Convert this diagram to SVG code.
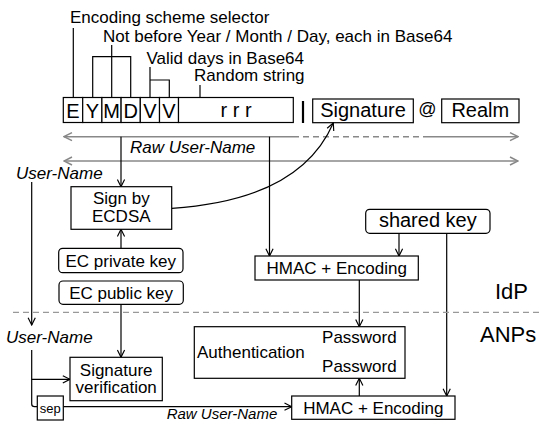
<svg xmlns="http://www.w3.org/2000/svg" width="541" height="425" viewBox="0 0 541 425">
<defs>
<marker id="ah" viewBox="0 0 10 10" refX="9" refY="5" markerWidth="9" markerHeight="9" markerUnits="userSpaceOnUse" orient="auto"><path d="M1,1 L9,5 L1,9" fill="none" stroke="#000" stroke-width="1.3"/></marker>
<marker id="ahg" viewBox="0 0 10 10" refX="9" refY="5" markerWidth="10" markerHeight="10" markerUnits="userSpaceOnUse" orient="auto-start-reverse"><path d="M1,1 L9,5 L1,9" fill="none" stroke="#888" stroke-width="1.5"/></marker>
</defs>
<style>
text{font-family:"Liberation Sans",Arial,sans-serif;font-size:17px;fill:#000}
.big{font-size:20px}
.it{font-style:italic}
.mid{text-anchor:middle}
.box{fill:#fff;stroke:#000;stroke-width:1.2}
.ln{fill:none;stroke:#000;stroke-width:1.2}
.gr{fill:none;stroke:#888;stroke-width:1.5}
</style>
<rect width="541" height="425" fill="#fff"/>

<g id="labels">
<text x="70" y="22.5">Encoding scheme selector</text>
<text x="103" y="42">Not before Year / Month / Day, each in Base64</text>
<text x="146.5" y="63.5">Valid days in Base64</text>
<text x="194" y="81">Random string</text>
</g>

<g id="brackets" class="ln">
<path class="ln" d="M73.3,28 V97.5"/>
<path class="ln" d="M111.7,45 V97.5 M92.7,97.5 V56.7 H130.7 V97.5"/>
<path class="ln" d="M150,67 V97.5 M150,80 H169.3 V97.5"/>
<path class="ln" d="M200,85 V97.5"/>
</g>

<g id="fields">
<rect class="box" x="63.3" y="97.5" width="19.4" height="25"/>
<rect class="box" x="82.7" y="97.5" width="19.2" height="25"/>
<rect class="box" x="101.9" y="97.5" width="19.2" height="25"/>
<rect class="box" x="121.1" y="97.5" width="19.2" height="25"/>
<rect class="box" x="140.3" y="97.5" width="19.2" height="25"/>
<rect class="box" x="159.5" y="97.5" width="19" height="25"/>
<rect class="box" x="178.5" y="97.5" width="114.8" height="25"/>
<text class="big mid" x="73" y="118">E</text>
<text class="big mid" x="92.3" y="118">Y</text>
<text class="big mid" x="111.5" y="118">M</text>
<text class="big mid" x="130.7" y="118">D</text>
<text class="big mid" x="149.9" y="118">V</text>
<text class="big mid" x="169" y="118">V</text>
<text class="big mid" x="236" y="117">r r r</text>
</g>
<path d="M303,101 V123" stroke="#000" stroke-width="2.2"/>
<g id="signature">
<rect class="box" x="312.7" y="99" width="100.6" height="23.7"/>
<text class="big mid" x="363" y="117">Signature</text>
</g>
<text x="427.5" y="115" class="mid" style="font-size:18px">@</text>
<g id="realm">
<rect class="box" x="441.7" y="99" width="77.3" height="23.7"/>
<text class="big mid" x="480.3" y="117">Realm</text>
</g>

<g id="connectors">
<path class="gr" d="M64,136.7 H293" marker-start="url(#ahg)"/>
<path class="gr" d="M293,136.7 H425" stroke-dasharray="6,4"/>
<path class="gr" d="M425,136.7 H518" marker-end="url(#ahg)"/>
<path class="gr" d="M64,161 H518" marker-start="url(#ahg)" marker-end="url(#ahg)"/>
<path class="ln" d="M121,136.7 V186.7" marker-end="url(#ah)"/>
<path class="ln" d="M269.5,136.7 V256" marker-end="url(#ah)"/>
<path class="ln" d="M172,208.3 Q300,200 333.3,123" marker-end="url(#ah)"/>
<path class="ln" d="M121,248.3 V229.3" marker-end="url(#ah)"/>
<path class="ln" d="M399,233.3 V256" marker-end="url(#ah)"/>
<path class="ln" d="M446.7,233.3 V396" marker-end="url(#ah)"/>
<path class="ln" d="M359.3,280 V326.7" marker-end="url(#ah)"/>
<path class="ln" d="M359.3,396 V378.3" marker-end="url(#ah)"/>
<path class="ln" d="M31.7,182 V325" marker-end="url(#ah)"/>
<path class="ln" d="M121,304.3 V357.3" marker-end="url(#ah)"/>
<path class="ln" d="M31.7,350 V404 Q31.7,406.7 34.5,406.7 H37.3"/>
<path class="ln" d="M31.7,379.3 H70" marker-end="url(#ah)"/>
<path class="ln" d="M63.3,406.7 H291.7" marker-end="url(#ah)"/>
</g>

<text class="it" x="130" y="152.5">Raw User-Name</text>
<text class="it" x="16" y="179">User-Name</text>

<g id="sign">
<rect class="box" x="71" y="186.7" width="100.7" height="42.6"/>
<text class="mid" x="121.3" y="204">Sign by</text>
<text class="mid" x="121.3" y="221.5">ECDSA</text>
</g>
<g id="ecpriv">
<rect class="box" x="58.7" y="248.3" width="124.3" height="24.4" rx="4"/>
<text class="mid" x="120.8" y="266.5">EC private key</text>
</g>
<g id="ecpub">
<rect class="box" x="59" y="281" width="124.3" height="23.3" rx="4"/>
<text class="mid" x="121.1" y="298.8">EC public key</text>
</g>
<g id="sharedkey">
<rect class="box" x="365.7" y="209.3" width="124.3" height="24" rx="4"/>
<text class="big mid" x="427.8" y="227">shared key</text>
</g>
<g id="hmac1">
<rect class="box" x="255" y="256" width="163.3" height="24"/>
<text class="mid" x="336.7" y="274">HMAC + Encoding</text>
</g>

<path d="M13,312.3 H541" stroke="#999" stroke-width="1.3" stroke-dasharray="6,4"/>
<text x="495" y="298.5" style="font-size:22px">IdP</text>
<text x="480" y="341.5" style="font-size:22px">ANPs</text>

<text class="it" x="6" y="343.3">User-Name</text>

<g id="sigver">
<rect class="box" x="70" y="357.3" width="92.3" height="43.4"/>
<text class="mid" x="116.2" y="376">Signature</text>
<text class="mid" x="116.2" y="393.3">verification</text>
</g>
<g id="sep">
<rect class="box" x="37.3" y="396" width="26" height="24"/>
<text x="50.3" y="412.7" class="mid" style="font-size:13px">sep</text>
</g>
<text class="it" x="166.7" y="418.5" style="font-size:15px">Raw User-Name</text>

<g id="auth">
<rect class="box" x="194.3" y="326.7" width="210.7" height="51.6"/>
<text x="197" y="357.7">Authentication</text>
<text x="396.7" y="343.3" style="text-anchor:end">Password</text>
<text x="396.7" y="371.7" style="text-anchor:end">Password</text>
</g>
<g id="hmac2">
<rect class="box" x="291.7" y="396" width="163.3" height="23.3"/>
<text class="mid" x="373.3" y="413.5">HMAC + Encoding</text>
</g>
</svg>
